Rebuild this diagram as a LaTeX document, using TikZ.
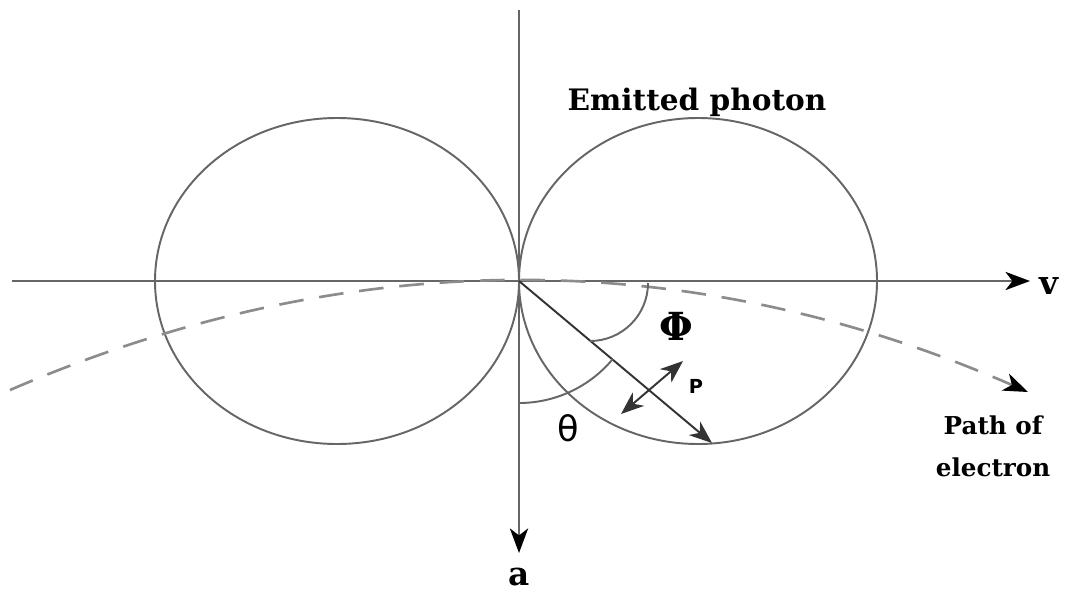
\documentclass[tikz,border=0pt]{standalone}
\usepackage{fontspec}
\setmainfont{DejaVu Serif}
\newfontfamily\lblsans{DejaVu Sans}
\usetikzlibrary{arrows.meta}
\begin{document}
\begin{tikzpicture}[x=0.01cm,y=-0.01cm,
  thinline/.style={draw=black!60, line width=0.55pt},
  axisline/.style={thinline, -{Stealth[length=7pt,width=5.2pt,inset=2pt,color=black]}},
  pathline/.style={draw=black!45, line width=0.75pt, dash pattern=on 7pt off 4.5pt,
     -{Stealth[length=7pt,width=5.2pt,inset=2pt,color=black]}},
  dirline/.style={draw=black!80, line width=0.55pt},
  lbl/.style={inner sep=0pt, font=\bfseries\fontsize{9.3}{11}\selectfont},
  txt/.style={inner sep=0pt, font=\bfseries\fontsize{8.4}{10}\selectfont, align=center}]
\useasboundingbox (0,0) rectangle (1068,591);
\fill[white] (0,0) rectangle (1068,591);
\coordinate (O) at (519,281);
\coordinate (hl) at (12,281);
\coordinate (hr) at (1030,281);
\coordinate (vt) at (519,10);
\coordinate (vb) at (519,553);
\coordinate (ps) at (10,390);
\coordinate (pe) at (1028,392);
\coordinate (Pend) at (712,443);
\coordinate (dA) at (621,414);
\coordinate (dB) at (683,361);
% lobes
\draw[thinline] (698,281) ellipse [x radius=179, y radius=163];
\draw[thinline] (337,281) ellipse [x radius=182, y radius=163];
% axes
\draw[axisline] (hl) -- (hr);
\draw[axisline] (vt) -- (vb);
% path of electron
\draw[pathline] (ps) .. controls (349,244) and (689,244) .. (pe);
% direction
\draw[dirline, -{Stealth[length=6.5pt,width=5pt,inset=2pt]}] (O) -- (Pend);
% angle arcs
\draw[thinline] (612.7,359.1) arc[start angle=39.8, end angle=90, radius=122];
\draw[thinline] (648,283) arc[start angle=0, end angle=90, radius=58];
% polarization
\draw[dirline, {Stealth[length=6.5pt,width=5pt,inset=2pt]}-{Stealth[length=6.5pt,width=5pt,inset=2pt]}] (dA) -- (dB);
% labels
\node[txt] (emit) at (697,102) {Emitted photon};
\node[lbl] (v) at (1049,286) {v};
\node[lbl] (a) at (519,577) {a};
\node[inner sep=0pt, font=\bfseries\fontsize{11}{12}\selectfont] (phi) at (676,326) {Φ};
\node[inner sep=0pt, font=\lblsans\fontsize{10}{10}\selectfont] (theta) at (568,428) {θ};
\node[inner sep=0pt, font=\lblsans\bfseries\fontsize{5.5}{6}\selectfont] (P) at (696,386) {P};
\node[txt, font=\bfseries\fontsize{7}{12}\selectfont] (path) at (993,446) {Path of\\electron};
\end{tikzpicture}
\end{document}
